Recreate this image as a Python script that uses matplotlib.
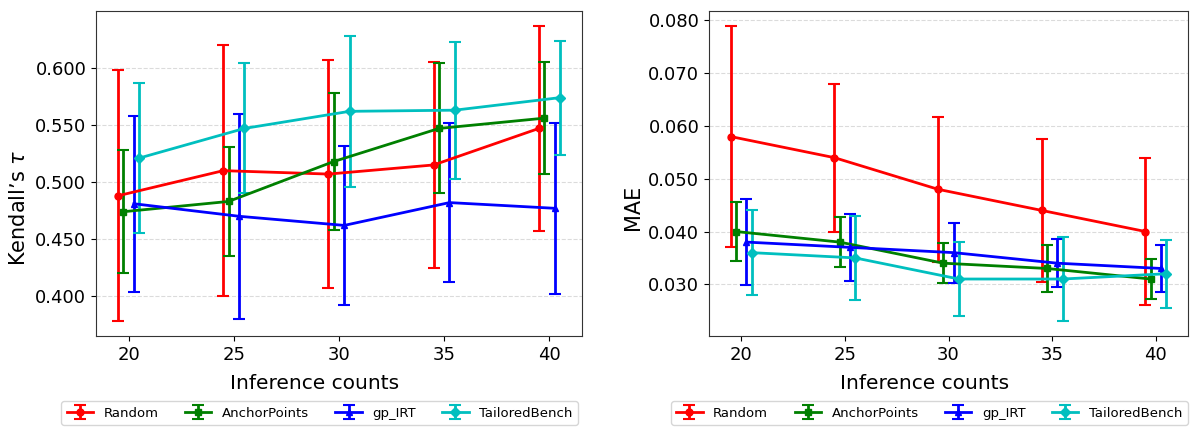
import numpy as np
import matplotlib
matplotlib.use("Agg")
import matplotlib.pyplot as plt

counts = np.array([20, 25, 30, 35, 40])
methods = ["Random", "AnchorPoints", "gp_IRT", "TailoredBench"]

# Kendall's tau (mean, std)
tau_random = [0.488, 0.510, 0.507, 0.515, 0.547]
tau_random_err = [0.110, 0.110, 0.100, 0.090, 0.090]
tau_anchor = [0.474, 0.483, 0.518, 0.547, 0.556]
tau_anchor_err = [0.054, 0.048, 0.060, 0.057, 0.049]
tau_gpirt = [0.481, 0.470, 0.462, 0.482, 0.477]
tau_gpirt_err = [0.077, 0.090, 0.070, 0.070, 0.075]
tau_tailored = [0.521, 0.547, 0.562, 0.563, 0.574]
tau_tailored_err = [0.066, 0.057, 0.066, 0.060, 0.050]

# MAE (mean, std)
mae_random = [0.058, 0.054, 0.048, 0.044, 0.040]
mae_random_err = [0.021, 0.014, 0.0137, 0.0136, 0.014]
mae_anchor = [0.040, 0.038, 0.034, 0.033, 0.031]
mae_anchor_err = [0.0056, 0.0047, 0.0038, 0.0044, 0.0038]
mae_gpirt = [0.038, 0.037, 0.036, 0.034, 0.033]
mae_gpirt_err = [0.0082, 0.0063, 0.0057, 0.0046, 0.0045]
mae_tailored = [0.036, 0.035, 0.031, 0.031, 0.032]
mae_tailored_err = [0.008, 0.008, 0.007, 0.008, 0.0064]

colors = ["r", "g", "b", "c"]
markers = ["o", "s", "^", "D"]
offsets = [-0.5, -0.25, 0.25, 0.5]


def draw_panel(ax, means, errs, ylabel):
    for i, name in enumerate(methods):
        ax.errorbar(counts + offsets[i], means[i], yerr=errs[i], label=name,
                    color=colors[i], marker=markers[i], markersize=5,
                    linewidth=2, elinewidth=2, capsize=4, capthick=1.5)
    ax.set_xticks(counts)
    ax.set_xlabel("Inference counts", fontsize=14.5)
    ax.set_ylabel(ylabel, fontsize=15)
    ax.xaxis.set_label_coords(0.45, -0.118)
    ax.yaxis.set_label_coords(-0.138, 0.395)
    ax.tick_params(labelsize=13)
    ax.yaxis.set_major_formatter(matplotlib.ticker.FormatStrFormatter("%.3f"))
    ax.grid(axis="y", linestyle="--", color="lightgrey", alpha=0.8, linewidth=0.8)
    for s in ax.spines.values():
        s.set_color("#333333")
    ax.legend(loc="center", bbox_to_anchor=(0.46, -0.237), ncol=4, fontsize=9.5)


fig = plt.figure(figsize=(11.9, 4.3), dpi=100)
ax1 = fig.add_axes([96 / 1190, 94 / 430, 486 / 1190, 325 / 430])
ax2 = fig.add_axes([709 / 1190, 94 / 430, 479 / 1190, 325 / 430])

draw_panel(ax1, [tau_random, tau_anchor, tau_gpirt, tau_tailored],
           [tau_random_err, tau_anchor_err, tau_gpirt_err, tau_tailored_err],
           "Kendall’s $\\tau$")
ax1.set_yticks([0.40, 0.45, 0.50, 0.55, 0.60])

draw_panel(ax2, [mae_random, mae_anchor, mae_gpirt, mae_tailored],
           [mae_random_err, mae_anchor_err, mae_gpirt_err, mae_tailored_err],
           "MAE")
ax2.set_yticks([0.03, 0.04, 0.05, 0.06, 0.07, 0.08])

fig.savefig("out.png", dpi=100)
